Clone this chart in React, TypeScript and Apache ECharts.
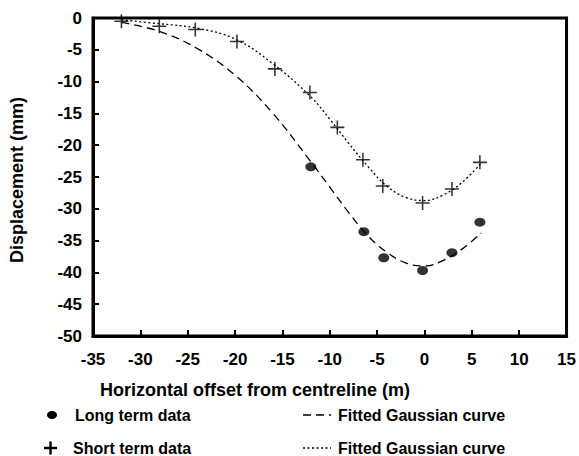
import React, { useEffect, useRef } from "react";
import * as echarts from "echarts";

const xTicks = [-35, -30, -25, -20, -15, -10, -5, 0, 5, 10, 15];
const yTicks = [0, -5, -10, -15, -20, -25, -30, -35, -40, -45, -50];

const longX = [-12, -6.4, -4.3, -0.2, 2.9, 5.85];
const longY = [-23.4, -33.6, -37.7, -39.7, -36.9, -32.1];

const shortX = [-32, -28, -24.2, -19.8, -15.8, -12.1, -9.2, -6.5, -4.4, -0.2, 2.9, 5.85];
const shortY = [-0.5, -1.3, -1.8, -3.7, -8.0, -11.7, -17.2, -22.3, -26.4, -29.1, -26.9, -22.7];

const curveX = [-32, -28, -24, -20, -16, -12, -10, -8, -6, -4, -2, 0, 2, 4, 6];
const longFit = [-0.7, -2.1, -4.8, -9.0, -15.0, -22.6, -26.6, -30.6, -34.2, -36.8, -38.5, -39.0, -38.1, -36.3, -33.8];
const shortFit = [-0.3, -0.9, -1.6, -3.3, -7.2, -12.4, -15.9, -19.7, -23.3, -26.4, -28.2, -28.7, -27.8, -25.8, -22.8];

const legendLabels = ["Long term data", "Short term data", "Fitted Gaussian curve", "Fitted Gaussian curve"];
const xTitle = "Horizontal offset from centreline (m)";
const yTitle = "Displacement (mm)";

const FONT = "'Liberation Sans', Arial, sans-serif";
const PLUS = "path://M4.45,0h1.1v4.45h4.45v1.1h-4.45v4.45h-1.1v-4.45h-4.45v-1.1h4.45z";

const zip = (xs: number[], ys: number[]) => xs.map((x, i) => [x, ys[i]]);

export default function App() {
  const ref = useRef<HTMLDivElement>(null);
  useEffect(() => {
    if (!ref.current) return;
    const chart = echarts.init(ref.current, undefined, { renderer: "svg" });
    const legendText = (x: number, y: number, text: string) => ({
      type: "text",
      x,
      y,
      style: { text, fill: "#000", font: `bold 16px ${FONT}`, textVerticalAlign: "middle" },
    });
    const axisLabel = (margin: number, ticks: number[]) => ({
      color: "#000",
      fontSize: 17,
      fontWeight: "bold",
      fontFamily: FONT,
      margin,
      formatter: (v: number) => (ticks.includes(v) ? String(v) : ""),
    });
    chart.setOption({
      animation: false,
      backgroundColor: "#fff",
      grid: { left: 93, right: 7, top: 18, bottom: 120, show: true, borderColor: "#000", borderWidth: 3 },
      xAxis: {
        type: "value",
        min: -35,
        max: 15,
        interval: 5,
        axisLine: { show: true, onZero: false, lineStyle: { color: "#000", width: 3 } },
        axisTick: { show: true, inside: true, length: 6, lineStyle: { color: "#000", width: 2 } },
        axisLabel: axisLabel(15, xTicks),
        splitLine: { show: false },
      },
      yAxis: {
        type: "value",
        min: -50,
        max: 0,
        interval: 5,
        axisLine: { show: true, onZero: false, lineStyle: { color: "#000", width: 3 } },
        axisTick: { show: true, inside: true, length: 6, lineStyle: { color: "#000", width: 2 } },
        axisLabel: axisLabel(11, yTicks),
        splitLine: { show: false },
      },
      series: [
        {
          name: "Long fit",
          type: "line",
          data: zip(curveX, longFit),
          smooth: 0.4,
          showSymbol: false,
          lineStyle: { color: "#000", width: 1.3, type: [8, 5] },
          z: 2,
        },
        {
          name: "Short fit",
          type: "line",
          data: zip(curveX, shortFit),
          smooth: 0.4,
          showSymbol: false,
          lineStyle: { color: "#000", width: 1.3, type: [2, 2.5] },
          z: 2,
        },
        {
          name: legendLabels[0],
          type: "scatter",
          data: zip(longX, longY),
          symbol: "circle",
          symbolSize: [11, 9],
          itemStyle: { color: "#000" },
          z: 3,
        },
        {
          name: legendLabels[1],
          type: "scatter",
          data: zip(shortX, shortY),
          symbol: PLUS,
          symbolSize: 14,
          itemStyle: { color: "#000" },
          z: 3,
        },
      ],
      graphic: [
        {
          type: "text",
          x: 17,
          y: 180,
          rotation: Math.PI / 2,
          style: { text: yTitle, fill: "#000", font: `bold 18px ${FONT}`, textAlign: "center", textVerticalAlign: "middle" },
        },
        {
          type: "text",
          x: 100,
          y: 390,
          style: { text: xTitle, fill: "#000", font: `bold 18px ${FONT}`, textAlign: "left", textVerticalAlign: "middle" },
        },
        { type: "ellipse", shape: { cx: 52, cy: 415, rx: 5, ry: 4 }, style: { fill: "#000" } },
        legendText(75, 415, legendLabels[0]),
        { type: "line", shape: { x1: 44, y1: 448, x2: 57, y2: 448 }, style: { stroke: "#000", lineWidth: 2.5 } },
        { type: "line", shape: { x1: 50.5, y1: 441.5, x2: 50.5, y2: 454.5 }, style: { stroke: "#000", lineWidth: 2.5 } },
        legendText(73, 448, legendLabels[1]),
        { type: "line", shape: { x1: 303, y1: 415, x2: 331, y2: 415 }, style: { stroke: "#000", lineWidth: 1.3, lineDash: [8, 5] } },
        legendText(338, 415, legendLabels[2]),
        { type: "line", shape: { x1: 303, y1: 448, x2: 331, y2: 448 }, style: { stroke: "#000", lineWidth: 1.3, lineDash: [2, 2.5] } },
        legendText(338, 448, legendLabels[3]),
      ],
    });
    return () => chart.dispose();
  }, []);
  return <div ref={ref} style={{ position: "absolute", left: 0, top: 0, width: 579, height: 456 }} />;
}
